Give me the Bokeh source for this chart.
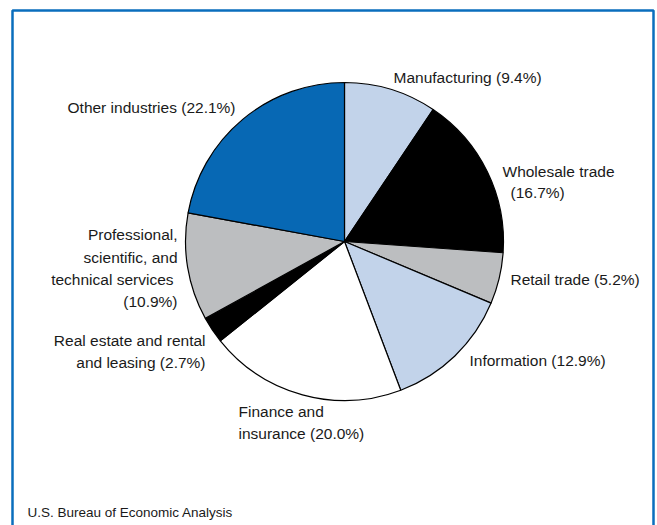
import math
from bokeh.plotting import figure
from bokeh.models import Range1d, ColumnDataSource
from bokeh.core.properties import value
from bokeh.embed import file_html
from bokeh.resources import INLINE

# ---- data ----
industries = ["Manufacturing", "Wholesale trade", "Retail trade", "Information",
              "Finance and insurance", "Real estate and rental and leasing",
              "Professional, scientific, and technical services", "Other industries"]
shares = [9.4, 16.7, 5.2, 12.9, 20.0, 2.7, 10.9, 22.1]
colors = ["#c2d3ea", "#000000", "#bcbec0", "#c2d3ea", "#ffffff", "#000000", "#bcbec0", "#0768b4"]
source_note = "U.S. Bureau of Economic Analysis"

W, H = 657, 525
FONT = "Liberation Sans"

p = figure(width=W, height=H, output_backend="svg", toolbar_location=None,
           x_range=Range1d(0, W), y_range=Range1d(0, H), min_border=0)
p.axis.visible = False
p.grid.visible = False
p.outline_line_color = None
p.background_fill_color = "white"
p.border_fill_color = "white"

# ---- pie ----
cx, cy, r = 344, 284, 159
total = sum(shares)
starts, ends = [], []
cum = 0.0
for s in shares:
    starts.append(math.pi / 2 - 2 * math.pi * cum / total)
    cum += s
    ends.append(math.pi / 2 - 2 * math.pi * cum / total)
src = ColumnDataSource(dict(start=starts, end=ends, color=colors, name=industries, share=shares))
p.wedge(x=cx, y=cy, radius=r, start_angle="start", end_angle="end", direction="clock",
        fill_color="color", line_color="black", line_width=1.2, source=src)

# ---- labels ----
DY = 6
def lab(lines, x, y0, align="left", size="15.5px", step=21.5):
    for i, t in enumerate(lines):
        p.text(x=[x], y=[y0 + DY - i * step], text=[t], text_font=value(FONT),
               text_font_size=size, text_align=align, text_baseline="alphabetic",
               text_color="#1a1a1a")

def pct(i):
    return f"({shares[i]:.1f}%)"

lab([f"Manufacturing {pct(0)}"], 393, 442)
lab(["Wholesale trade"], 502, 348)
lab([pct(1)], 510, 327)
lab([f"Retail trade {pct(2)}"], 510, 240)
lab([f"Information {pct(3)}"], 469, 159)
lab(["Finance and", f"insurance {pct(4)}"], 238, 108, step=22)
lab(["Real estate and rental", f"and leasing {pct(5)}"], 205, 179, align="right", step=22)
lab(["Professional,", "scientific, and"], 177, 285, align="right", step=23)
lab(["technical services"], 173, 240, align="right")
lab([pct(6)], 177, 218, align="right")
lab([f"Other industries {pct(7)}"], 235, 412, align="right")
lab([source_note], 27, 7, size="13.5px")

# ---- frame ----
p.line(x=[12, 12, 653, 653], y=[-10, 515, 515, -10], line_color="#0a6ebd", line_width=2.5)

open("out.html", "w").write(file_html(p, INLINE))
